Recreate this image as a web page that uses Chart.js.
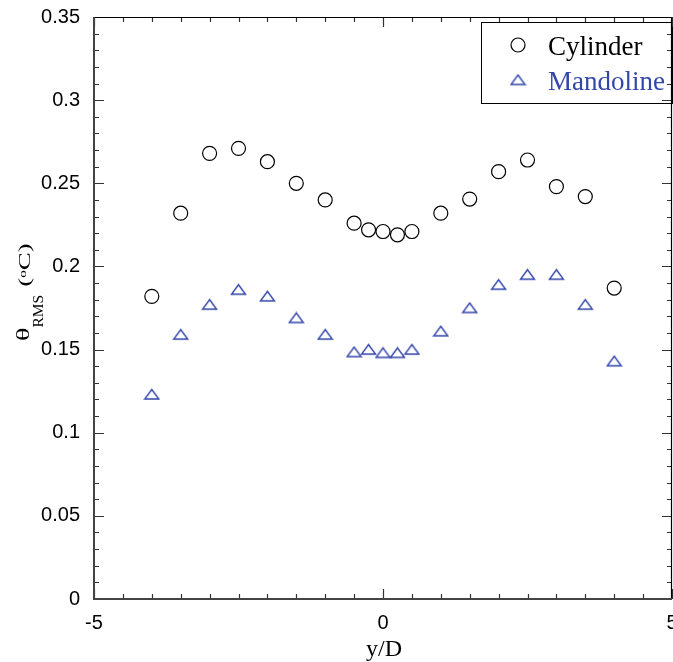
<!DOCTYPE html>
<html>
<head>
<meta charset="utf-8">
<script src="https://cdn.jsdelivr.net/npm/chart.js@4.4.0/dist/chart.umd.min.js"></script>
<style>
  html, body { margin: 0; padding: 0; background: #fff; }
  #wrap { width: 673px; height: 662px; position: relative; }
</style>
</head>
<body>
<div id="wrap"><canvas id="chart"></canvas></div>
<script>
// y/D positions and theta RMS values
const yOverD = [-4, -3.5, -3, -2.5, -2, -1.5, -1, -0.5, -0.25, 0, 0.25, 0.5, 1, 1.5, 2, 2.5, 3, 3.5, 4];
const cylinder = [0.182, 0.232, 0.268, 0.271, 0.263, 0.250, 0.240, 0.226, 0.222, 0.221, 0.219, 0.221, 0.232, 0.2405, 0.257, 0.264, 0.248, 0.242, 0.187];
const mandoline = [0.123, 0.159, 0.177, 0.186, 0.182, 0.169, 0.159, 0.1485, 0.150, 0.148, 0.148, 0.150, 0.161, 0.175, 0.189, 0.195, 0.195, 0.177, 0.143];
const seriesNames = ['Cylinder', 'Mandoline'];
const xTicks = [-5, 0, 5];
const yTicks = [0, 0.05, 0.1, 0.15, 0.2, 0.25, 0.3, 0.35];

const BLUE = '#3346aa';
const SERIF = '"Liberation Serif", "Times New Roman", serif';
const SANS = '"Liberation Sans", Arial, sans-serif';

function toPoints(vals) {
  return yOverD.map((x, i) => ({ x: x, y: vals[i] }));
}

// open triangle marker, a bit flatter than the built-in one
const tri = document.createElement('canvas');
tri.width = 17;
tri.height = 13;
(function () {
  const c = tri.getContext('2d');
  c.strokeStyle = BLUE;
  c.lineWidth = 1.4;
  c.lineJoin = 'miter';
  c.beginPath();
  c.moveTo(8.5, 1.5);
  c.lineTo(15.5, 11);
  c.lineTo(1.5, 11);
  c.closePath();
  c.stroke();
})();

// legend box, inward ticks, frame and axis titles
const framePlugin = {
  id: 'frame',
  afterDatasetsDraw(chart) {
    const ctx = chart.ctx;
    const a = chart.chartArea;
    const xs = chart.scales.x;
    const ys = chart.scales.y;
    ctx.save();

    // legend
    ctx.fillStyle = '#fff';
    ctx.fillRect(481, 22, 191, 81);
    ctx.strokeStyle = '#000';
    ctx.lineWidth = 1;
    ctx.strokeRect(481.5, 22.5, 191, 81);
    ctx.lineWidth = 1.2;
    ctx.beginPath();
    ctx.arc(518, 45, 7, 0, Math.PI * 2);
    ctx.stroke();
    ctx.drawImage(tri, 518 - 8.5, 80 - 6.5);
    ctx.font = '27px ' + SERIF;
    ctx.textBaseline = 'alphabetic';
    ctx.textAlign = 'left';
    ctx.fillStyle = '#000';
    ctx.fillText(seriesNames[0], 548, 55);
    ctx.fillStyle = BLUE;
    ctx.fillText(seriesNames[1], 548, 90);

    // inward ticks on all four sides
    ctx.strokeStyle = '#333';
    ctx.lineWidth = 1.2;
    ctx.beginPath();
    for (let i = -10; i <= 10; i++) {
      const px = Math.round(xs.getPixelForValue(i * 0.5)) + 0.5;
      const len = (i % 10 === 0) ? 10 : 5;
      ctx.moveTo(px, a.bottom); ctx.lineTo(px, a.bottom - len);
      ctx.moveTo(px, a.top); ctx.lineTo(px, a.top + len);
    }
    for (let i = 0; i <= 35; i++) {
      const py = Math.round(ys.getPixelForValue(i / 100)) + 0.5;
      const len = (i % 5 === 0) ? 10 : 5;
      ctx.moveTo(a.left, py); ctx.lineTo(a.left + len, py);
      ctx.moveTo(a.right, py); ctx.lineTo(a.right - len, py);
    }
    ctx.stroke();

    // frame: left/bottom heavier grey, top/right thin black
    ctx.strokeStyle = '#000';
    ctx.lineWidth = 1.2;
    ctx.beginPath();
    ctx.moveTo(a.left, a.top + 0.5); ctx.lineTo(a.right, a.top + 0.5);
    ctx.moveTo(a.right - 0.5, a.top); ctx.lineTo(a.right - 0.5, a.bottom);
    ctx.stroke();
    ctx.strokeStyle = '#444';
    ctx.lineWidth = 2;
    ctx.beginPath();
    ctx.moveTo(a.left, a.top); ctx.lineTo(a.left, a.bottom); ctx.lineTo(a.right, a.bottom);
    ctx.stroke();

    // x title
    ctx.fillStyle = '#000';
    ctx.font = '24px ' + SERIF;
    ctx.textAlign = 'center';
    ctx.fillText('y/D', 384, 656);

    // y title, rotated: theta_RMS (oC)
    ctx.translate(29, 341);
    ctx.rotate(-Math.PI / 2);
    ctx.textAlign = 'left';
    let x = 0;
    ctx.save();
    ctx.scale(1, 0.68);
    ctx.font = '28px ' + SERIF;
    ctx.fillText('\u03B8', x, 0);
    x += ctx.measureText('\u03B8').width;
    ctx.restore();
    ctx.font = '15.5px ' + SERIF;
    ctx.fillText('RMS', x, 14);
    x += ctx.measureText('RMS').width + 8;
    ctx.scale(1, 0.64);
    ctx.font = '27px ' + SERIF;
    ctx.fillText('(', x, 2);
    x += ctx.measureText('(').width;
    ctx.font = '15px ' + SERIF;
    ctx.fillText('o', x, -5);
    x += ctx.measureText('o').width;
    ctx.font = '27px ' + SERIF;
    ctx.fillText('C)', x, 2);

    ctx.restore();
  }
};

const ctx = document.getElementById('chart').getContext('2d');
new Chart(ctx, {
  type: 'scatter',
  data: {
    datasets: [
      {
        label: seriesNames[0],
        data: toPoints(cylinder),
        pointStyle: 'circle',
        pointRadius: 7,
        pointHoverRadius: 7,
        pointBorderWidth: 1.2,
        pointBorderColor: '#000',
        pointBackgroundColor: 'rgba(0,0,0,0)',
        showLine: false
      },
      {
        label: seriesNames[1],
        data: toPoints(mandoline),
        pointStyle: tri,
        pointRadius: 8,
        pointHoverRadius: 8,
        pointBorderColor: BLUE,
        pointBackgroundColor: 'rgba(0,0,0,0)',
        showLine: false
      }
    ]
  },
  options: {
    responsive: true,
    maintainAspectRatio: false,
    animation: false,
    devicePixelRatio: 1,
    layout: { autoPadding: false, padding: { top: 17, right: 1, left: 0, bottom: 0 } },
    plugins: {
      legend: { display: false },
      tooltip: { enabled: false }
    },
    scales: {
      x: {
        type: 'linear',
        min: -5,
        max: 5,
        afterBuildTicks: s => { s.ticks = xTicks.map(v => ({ value: v })); },
        afterFit: s => { s.height = 63; s.paddingLeft = 0; s.paddingRight = 0; },
        grid: { display: false, drawTicks: false },
        border: { display: false },
        ticks: {
          padding: 12,
          maxRotation: 0,
          autoSkip: false,
          color: '#000',
          font: { family: SANS, size: 20 },
          callback: v => String(v)
        }
      },
      y: {
        type: 'linear',
        min: 0,
        max: 0.35,
        afterBuildTicks: s => { s.ticks = yTicks.map(v => ({ value: v })); },
        afterFit: s => { s.width = 94; s.paddingTop = 0; s.paddingBottom = 0; },
        grid: { display: false, drawTicks: false },
        border: { display: false },
        ticks: {
          padding: 14,
          autoSkip: false,
          color: '#000',
          font: { family: SANS, size: 20 },
          callback: v => String(Number(v.toFixed(2)))
        }
      }
    }
  },
  plugins: [framePlugin]
});
</script>
</body>
</html>
